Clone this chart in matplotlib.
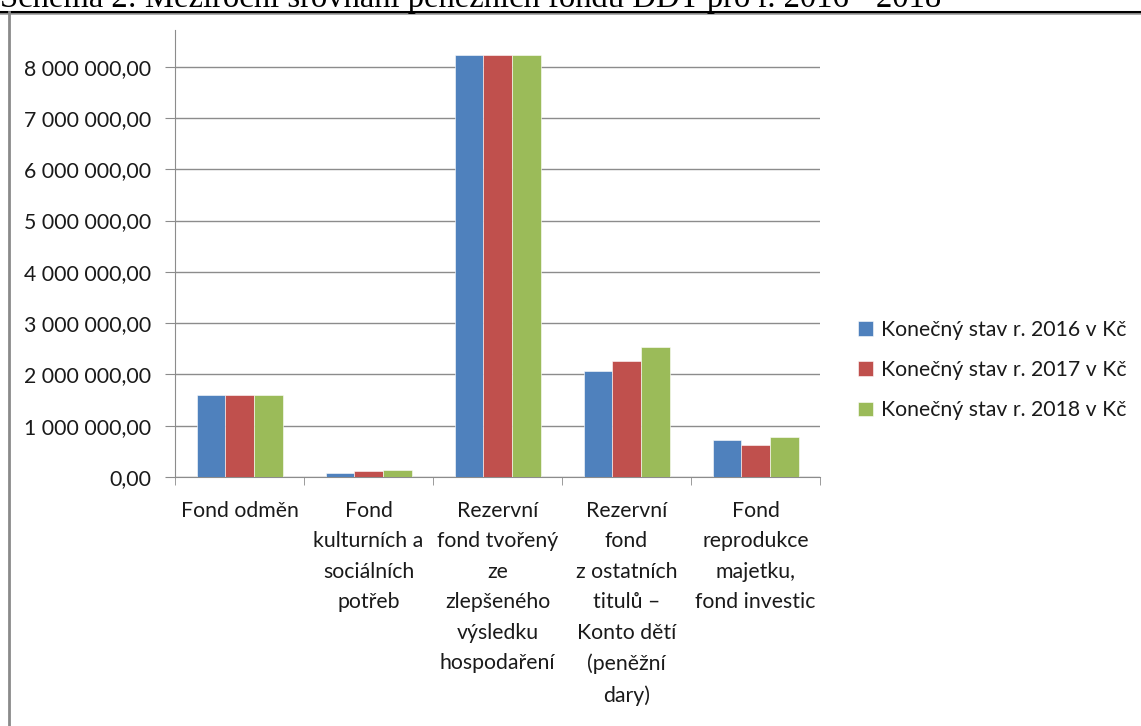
import matplotlib
matplotlib.use("Agg")
import matplotlib.pyplot as plt
import numpy as np
from matplotlib.lines import Line2D
from matplotlib.ticker import FuncFormatter, FixedLocator

# Kategorie fondu
kategorie = [
    "Fond odměn",
    "Fond\nkulturních a\nsociálních\npotřeb",
    "Rezervní\nfond tvořený\nze\nzlepšeného\nvýsledku\nhospodaření",
    "Rezervní\nfond\nz ostatních\ntitulů –\nKonto dětí\n(peněžní\ndary)",
    "Fond\nreprodukce\nmajetku,\nfond investic",
]

# Konecny stav v Kc (odhad z grafu)
stav_2016 = [1590000, 72000, 8230000, 2070000, 720000]
stav_2017 = [1590000, 123000, 8230000, 2270000, 625000]
stav_2018 = [1590000, 143000, 8230000, 2530000, 775000]

popisky = ["Konečný stav r. 2016 v Kč", "Konečný stav r. 2017 v Kč", "Konečný stav r. 2018 v Kč"]
barvy = ["#4F81BD", "#C0504D", "#9BBB59"]

titulek = "Schéma 2: Meziroční srovnání peněžních fondů DDT pro r. 2016 - 2018"

font = ["Lato", "DejaVu Sans"]
plt.rcParams["font.family"] = font
velikost = 15.3

fig = plt.figure(figsize=(11.41, 7.26), dpi=100)
ax = fig.add_axes([0.1534, 0.343, 0.5653, 0.6157])

x = np.arange(len(kategorie))
sirka = 2 / 9
for i, (hodnoty, barva, popisek) in enumerate(zip([stav_2016, stav_2017, stav_2018], barvy, popisky)):
    ax.bar(x + (i - 1) * sirka, hodnoty, width=sirka, color=barva, label=popisek,
           edgecolor="white", linewidth=0.4, zorder=3)

ax.set_xlim(-0.5, len(kategorie) - 0.5)
ax.set_ylim(0, 8715000)
ax.set_yticks(np.arange(0, 8000001, 1000000))
ax.yaxis.set_major_formatter(FuncFormatter(lambda v, p: f"{v:,.2f}".replace(",", " ").replace(".", ",")))
ax.yaxis.grid(True, color="#8C8C8C", linewidth=1.0, zorder=0)

ax.set_xticks(x)
ax.set_xticklabels(kategorie, fontsize=velikost, color="#1A1A1A", linespacing=1.66, va="top")
ax.xaxis.set_minor_locator(FixedLocator(np.arange(-0.5, len(kategorie), 1)))
ax.tick_params(axis="x", which="major", length=0, pad=17)
ax.tick_params(axis="x", which="minor", length=6, color="#8C8C8C", direction="out")
ax.tick_params(axis="y", length=7, color="#8C8C8C", labelsize=velikost, labelcolor="#1A1A1A", pad=10)

for s in ["top", "right"]:
    ax.spines[s].set_visible(False)
ax.spines["left"].set_color("#8C8C8C")
ax.spines["bottom"].set_color("#8C8C8C")

leg = fig.legend(loc="center left", bbox_to_anchor=(0.735, 0.49), frameon=False, fontsize=velikost,
                 handlelength=0.7, handleheight=0.7, handletextpad=0.4, labelspacing=0.95)
for t in leg.get_texts():
    t.set_color("#1A1A1A")

# Oramovani a orezany titulek nahore
fig.add_artist(Line2D([0, 1], [1 - 11.5 / 726] * 2, transform=fig.transFigure, color="black", linewidth=2.2))
fig.add_artist(Line2D([0, 1], [1 - 13.5 / 726] * 2, transform=fig.transFigure, color="#A0A0A0", linewidth=1.2))
fig.add_artist(Line2D([9 / 1141] * 2, [0, 1 - 12 / 726], transform=fig.transFigure, color="#8A8A8A", linewidth=2))
fig.text(0.0, 1 - 7 / 726, titulek, fontsize=23.5, family=["Liberation Serif"], va="baseline", ha="left")

fig.savefig("out.png", dpi=100)
